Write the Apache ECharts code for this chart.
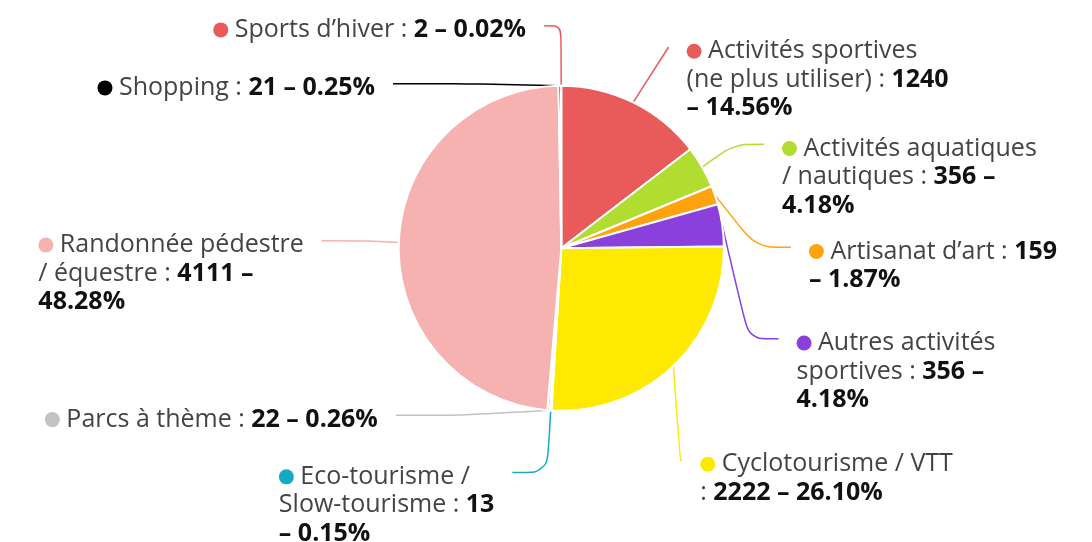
<!DOCTYPE html>
<html><head><meta charset="utf-8">
<script src="https://cdn.jsdelivr.net/npm/echarts@6/dist/echarts.min.js"></script>
<style>html,body{margin:0;padding:0;background:#fff}#c{width:1092px;height:542px}</style>
</head><body><div id="c"></div>
<script>
const categories = ["Activités sportives (ne plus utiliser)","Activités aquatiques / nautiques","Artisanat d’art","Autres activités sportives","Cyclotourisme / VTT","Eco-tourisme / Slow-tourisme","Parcs à thème","Randonnée pédestre / équestre","Shopping","Sports d’hiver"];
const values = [1240,356,159,356,2222,13,22,4111,21,2];
const percents = ["14.56","4.18","1.87","4.18","26.10","0.15","0.26","48.28","0.25","0.02"];
const colors = ["#e85b5a","#b1dc30","#ffa20e","#8b3fdc","#ffe900","#16a9c5","#c2c2c2","#f6b1b1","#000000","#e85b5a"];
// word index (in "name : value – pct%") where each wrapped label line starts, as in the reference
const lineStarts = [[2,7],[2,7],[4],[2,6],[3],[2,5],[],[2,7],[],[]];

// label styling per slice index (not data)
const lineLength = {0:80, 4:10, 5:50, 6:5, 8:2, 9:60};
const lineLength2 = {0:0, 1:30, 2:35, 3:30, 4:2, 5:35, 6:70, 7:45, 8:75};
const padBottom = {1:23, 2:40, 4:99.5};

const FONT = 'Open Sans';
const FS = 25;
const LH = 28.5;

function labelText(i){
  const words = categories[i].split(' ').map(t=>({t,b:false}));
  words.push({t:':',b:false});
  [String(values[i]),'–',percents[i]+'%'].forEach(t=>words.push({t,b:true}));
  let s = `{d${i}|}{n| }`;
  words.forEach((w,k)=>{
    const nl = lineStarts[i].includes(k);
    if (nl) s += '\n';
    s += `{${w.b?'v':'n'}|${(k && !nl ? ' ':'')+w.t}}`;
  });
  return s;
}

const rich = {
  n:{fontSize:FS,color:'#444',lineHeight:LH,fontFamily:FONT,align:'left'},
  v:{fontSize:FS,color:'#111',fontWeight:'bold',lineHeight:LH,fontFamily:FONT,align:'left'}
};
colors.forEach((c,i)=>{ rich['d'+i] = {width:15,height:15,borderRadius:7.5,backgroundColor:c,align:'left'}; });

const chart = echarts.init(document.getElementById('c'));
chart.setOption({
  animation:false,
  series:[{
    type:'pie',
    center:['51.4%','45.8%'],
    radius:'60%',
    startAngle:90,
    avoidLabelOverlap:true,
    itemStyle:{borderColor:'#fff',borderWidth:2},
    data: categories.map((n,i)=>({
      name:n,value:values[i],itemStyle:{color:colors[i]},
      label:{padding:[-10,0,padBottom[i]||0,0]},
      labelLine:{
        length:lineLength[i]!=null?lineLength[i]:50,
        length2:lineLength2[i]!=null?lineLength2[i]:17,
        lineStyle:{color:colors[i]}
      }
    })),
    label:{
      show:true,position:'outside',distanceToLabelLine:18,lineHeight:LH,fontSize:FS,fontFamily:FONT,color:'#444',
      formatter:p=>labelText(p.dataIndex),
      rich
    },
    labelLine:{show:true,smooth:0.3,lineStyle:{width:1.5}},
    labelLayout:{verticalAlign:'top',hideOverlap:false}
  }]
});
</script></body></html>
